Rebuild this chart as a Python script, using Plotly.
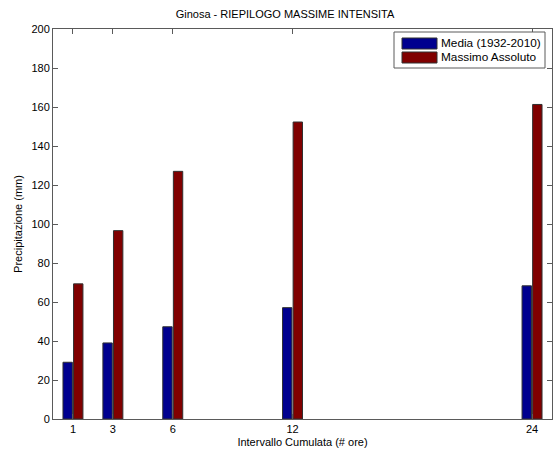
import plotly.graph_objects as go

# Cumulated rainfall intervals (hours) and intensities (mm)
hours = [1, 3, 6, 12, 24]
media = [29.1, 39.0, 47.3, 57.1, 68.3]
massimo = [69.3, 96.6, 127.0, 152.3, 161.3]
y_ticks = [0, 20, 40, 60, 80, 100, 120, 140, 160, 180, 200]
series_names = ["Media (1932-2010)", "Massimo Assoluto"]

BLUE = "#00008f"
RED = "#800000"
EDGE = "#303030"
AXIS = "#5a5a5a"
FONT = "Liberation Sans, Arial, sans-serif"

W, H = 556, 456
L, R, T, B = 53, 4, 29, 37
pw, ph = W - L - R, H - T - B


def px(xp):
    return (xp - L) / pw


def py(yp):
    return (H - B - yp) / ph


fig = go.Figure()
fig.add_trace(go.Bar(x=hours, y=media, name=series_names[0], width=0.47, offset=-0.5,
                     marker=dict(color=BLUE, line=dict(color=EDGE, width=1)), showlegend=False))
fig.add_trace(go.Bar(x=hours, y=massimo, name=series_names[1], width=0.47, offset=0.03,
                     marker=dict(color=RED, line=dict(color=EDGE, width=1)), showlegend=False))

# Boxed legend in the upper right corner
shapes = [
    dict(type="rect", xref="paper", yref="paper", x0=px(394), x1=px(545), y0=py(68), y1=py(32),
         line=dict(color=AXIS, width=1), fillcolor="white", layer="above"),
    dict(type="rect", xref="paper", yref="paper", x0=px(402), x1=px(437), y0=py(49), y1=py(38),
         line=dict(color=EDGE, width=1), fillcolor=BLUE, layer="above"),
    dict(type="rect", xref="paper", yref="paper", x0=px(402), x1=px(437), y0=py(63), y1=py(52),
         line=dict(color=EDGE, width=1), fillcolor=RED, layer="above"),
]
annotations = [
    dict(xref="paper", yref="paper", x=px(439), y=py(43.5), text=series_names[0], showarrow=False,
         xanchor="left", yanchor="middle", font=dict(family=FONT, size=11.8, color="black")),
    dict(xref="paper", yref="paper", x=px(439), y=py(57.5), text=series_names[1], showarrow=False,
         xanchor="left", yanchor="middle", font=dict(family=FONT, size=11.8, color="black")),
]

fig.update_layout(
    width=W, height=H,
    margin=dict(l=L, r=R, t=T, b=B),
    paper_bgcolor="white", plot_bgcolor="white",
    barmode="overlay",
    font=dict(family=FONT, size=11, color="black"),
    title=dict(text="Ginosa - RIEPILOGO MASSIME INTENSITA", xref="container", x=285 / W,
               xanchor="center", y=1 - 14 / H, yanchor="middle",
               font=dict(family=FONT, size=11, color="black")),
    shapes=shapes, annotations=annotations,
    xaxis=dict(range=[0, 25], tickvals=hours, ticktext=[str(h) for h in hours],
               ticks="inside", ticklen=5, tickcolor=AXIS, showline=True, linecolor=AXIS,
               linewidth=1, mirror="ticks", showgrid=False, zeroline=False,
               title=dict(text="Intervallo Cumulata (# ore)", standoff=4,
                          font=dict(family=FONT, size=11))),
    yaxis=dict(range=[0, 200], tickvals=y_ticks, ticks="inside", ticklen=5, tickcolor=AXIS,
               showline=True, linecolor=AXIS, linewidth=1, mirror="ticks", showgrid=False,
               zeroline=False,
               title=dict(text="Precipitazione (mm)", standoff=6,
                          font=dict(family=FONT, size=11))),
)

fig.write_html("out.html")
